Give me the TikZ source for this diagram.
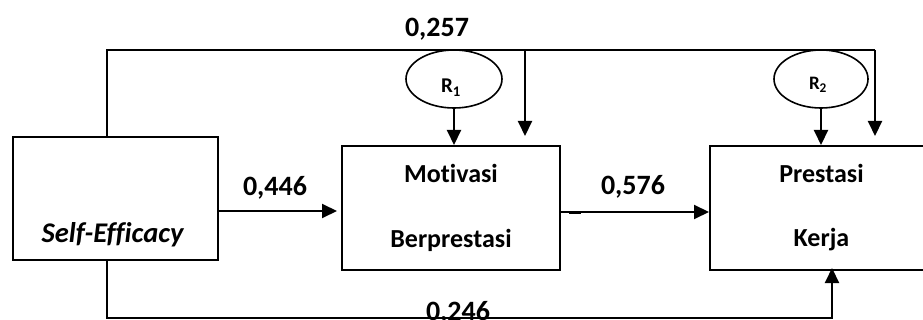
\documentclass[tikz,border=0pt]{standalone}
\usepackage{fontspec}
\setmainfont{Carlito}[Ligatures=NoCommon]
\usetikzlibrary{arrows.meta,shapes.geometric}

\begin{document}
\begin{tikzpicture}[x=1pt,y=-1pt,line width=2pt,
  box/.style={draw,rectangle,inner sep=0pt,line width=2pt},
  res/.style={draw,ellipse,inner sep=0pt,line width=1.6pt},
  lbl/.style={font=\fontsize{26}{30}\selectfont\bfseries,inner sep=0pt,anchor=base},
  coef/.style={font=\fontsize{28}{32}\selectfont\bfseries,inner sep=0pt,anchor=base},
  rlbl/.style={font=\fontsize{21}{24}\selectfont\bfseries,inner sep=0pt,anchor=base},
  arr/.style={-{Triangle[length=15pt,width=14pt]},line width=2pt},
]
\useasboundingbox (0,0) rectangle (923,320);

% variables
\node[box,minimum width=205pt,minimum height=123pt] (se) at (115.5,198.5) {};
\node[box,minimum width=218pt,minimum height=124pt] (mb) at (451,208) {};
\node[box,minimum width=226pt,minimum height=124pt] (pk) at (823,208) {};

% residuals
\node[res,minimum width=96pt,minimum height=58pt] (r1) at (454,79) {};
\node[res,minimum width=94pt,minimum height=58pt] (r2) at (821,79) {};
\node[rlbl] (r1t) at (451,93) {R\textsubscript{1}};
\node[rlbl,font=\fontsize{19}{22}\selectfont\bfseries] (r2t) at (818,90) {R\textsubscript{2}};

% variable names
\node[lbl,font=\fontsize{28.5}{32}\selectfont\bfseries\itshape] (set) at (112.5,243) {Self-Efficacy};
\node[lbl] (mbt1) at (451,183) {Motivasi};
\node[lbl] (mbt2) at (451,248) {Berprestasi};
\node[lbl] (pkt1) at (821.5,183) {Prestasi};
\node[lbl] (pkt2) at (821.5,247) {Kerja};

% path coefficients
\node[coef] (c257) at (437,37) {0,257};
\node[coef] (c446) at (275,196) {0,446};
\node[coef] (c576) at (633,195) {0,576};
\node[coef] (c246) at (458,320.5) {0,246};

% routing points
\coordinate (tl) at (107,50);
\coordinate (tm) at (525,50);
\coordinate (tr) at (875,50);
\coordinate (tmend) at (525,136);
\coordinate (trend) at (875,136);
\coordinate (bl) at (107,318);
\coordinate (br) at (832,318);
\coordinate (brend) at (832,268);
\coordinate (y446) at (337,211);
\coordinate (y576) at (0,212);

% direct effect over the top
\draw (se.north -| tl) -- (tl) -- (tr);
\draw[arr] (tm) -- (tmend);
\draw[arr] (tr) -- (trend);

% residual arrows
\draw[arr] (r1.south) -- (r1.south |- mb.north);
\draw[arr] (r2.south) -- (r2.south |- pk.north);

% main chain
\draw[arr] (se.east |- y446) -- (y446);
\draw[arr] (mb.east |- y576) -- (pk.west |- y576);
\fill (569,212) rectangle (581,214.5);

% direct effect along the bottom
\draw[arr] (se.south -| bl) -- (bl) -- (br) -- (brend);
\end{tikzpicture}
\end{document}
